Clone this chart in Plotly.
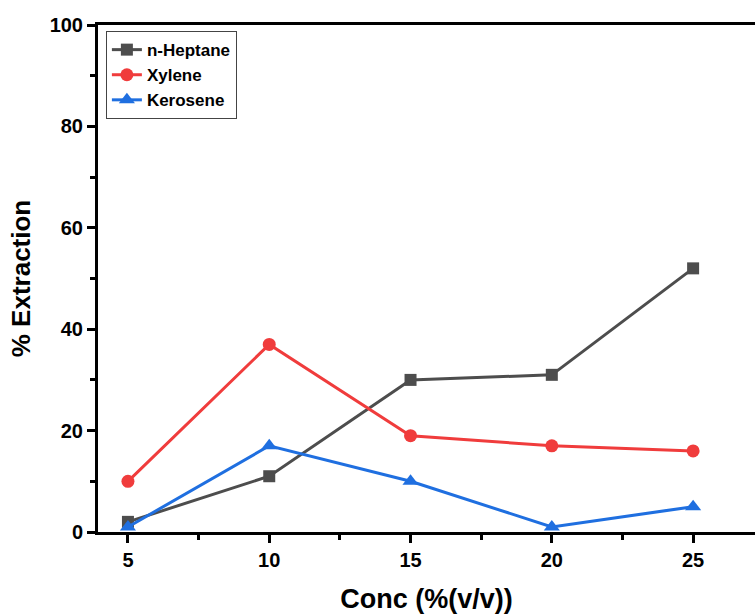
import plotly.graph_objects as go

conc = [5, 10, 15, 20, 25]
heptane = [2, 11, 30, 31, 52]
xylene = [10, 37, 19, 17, 16]
kerosene = [1, 17, 10, 1, 5]

fig = go.Figure()
fig.add_trace(go.Scatter(x=conc, y=heptane, name="n-Heptane", mode="lines+markers",
                         line=dict(color="#4d4d4d", width=3),
                         marker=dict(symbol="square", size=12, color="#4d4d4d")))
fig.add_trace(go.Scatter(x=conc, y=xylene, name="Xylene", mode="lines+markers",
                         line=dict(color="#f03c3c", width=3),
                         marker=dict(symbol="circle", size=13, color="#f03c3c")))
fig.add_trace(go.Scatter(x=conc, y=kerosene, name="Kerosene", mode="lines+markers",
                         line=dict(color="#1f6fe0", width=3),
                         marker=dict(symbol="triangle-up", size=14, color="#1f6fe0")))

font_family = "Liberation Sans, Arial, sans-serif"
fig.update_layout(
    width=755, height=614,
    margin=dict(l=98, r=0, t=25, b=82),
    plot_bgcolor="white", paper_bgcolor="white",
    font=dict(family=font_family, color="black"),
    showlegend=True,
    legend=dict(x=0.012, y=0.988, xanchor="left", yanchor="top",
                bgcolor="white", bordercolor="#444", borderwidth=1,
                font=dict(size=17, family=font_family, weight="bold"),
                tracegroupgap=0, itemwidth=30),
    xaxis=dict(range=[3.94, 27.19], tickvals=[5, 10, 15, 20, 25],
               ticks="outside", ticklen=8, tickwidth=3, tickcolor="black",
               showline=True, linewidth=3, linecolor="black", mirror=True,
               showgrid=False, zeroline=False,
               minor=dict(tickvals=[7.5, 12.5, 17.5, 22.5], ticks="outside",
                          ticklen=5, tickwidth=3, tickcolor="black"),
               tickfont=dict(size=20, family=font_family, weight="bold"),
               title=dict(text="Conc (%(v/v))", standoff=20,
                          font=dict(size=27, family=font_family, weight="bold"))),
    yaxis=dict(range=[0, 100], tickvals=[0, 20, 40, 60, 80, 100],
               ticks="outside", ticklen=8, tickwidth=3, tickcolor="black",
               showline=True, linewidth=3, linecolor="black", mirror=False,
               showgrid=False, zeroline=False,
               minor=dict(tickvals=[10, 30, 50, 70, 90], ticks="outside",
                          ticklen=5, tickwidth=3, tickcolor="black"),
               tickfont=dict(size=20, family=font_family, weight="bold"),
               title=dict(text="% Extraction", standoff=12,
                          font=dict(size=26, family=font_family, weight="bold"))),
)

fig.write_html("out.html")
